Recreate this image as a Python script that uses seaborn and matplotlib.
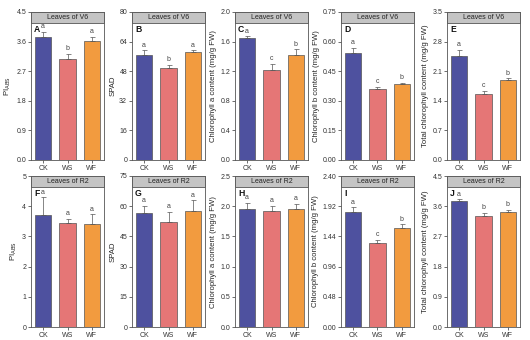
import matplotlib
matplotlib.use("Agg")
import matplotlib.pyplot as plt
import seaborn as sns
import pandas as pd
from matplotlib.patches import Rectangle

sns.set_theme(style="white")
plt.rcParams['font.family'] = ['Liberation Sans', 'DejaVu Sans']

treatments = ["CK", "WS", "WF"]
colors = ["#4e519f", "#e57676", "#f29b3f"]

# Row 1: Leaves of V6
pi_v6 = [3.73, 3.07, 3.61]
pi_v6_err = [0.16, 0.15, 0.13]
spad_v6 = [57.0, 49.5, 58.3]
spad_v6_err = [2.2, 1.8, 0.9]
chla_v6 = [1.65, 1.21, 1.425]
chla_v6_err = [0.02, 0.09, 0.07]
chlb_v6 = [0.54, 0.361, 0.384]
chlb_v6_err = [0.03, 0.01, 0.007]
tot_v6 = [2.47, 1.57, 1.89]
tot_v6_err = [0.14, 0.06, 0.04]

# Row 2: Leaves of R2
pi_r2 = [3.71, 3.45, 3.40]
pi_r2_err = [0.58, 0.12, 0.33]
spad_r2 = [56.5, 52.4, 57.8]
spad_r2_err = [3.5, 4.6, 5.1]
chla_r2 = [1.95, 1.92, 1.95]
chla_r2_err = [0.10, 0.08, 0.09]
chlb_r2 = [1.83, 1.34, 1.57]
chlb_r2_err = [0.07, 0.04, 0.06]
tot_r2 = [3.76, 3.31, 3.42]
tot_r2_err = [0.04, 0.08, 0.07]

panels = [
    ("A", "Leaves of V6", "PI$_{\\mathrm{ABS}}$", pi_v6, pi_v6_err, ["a", "b", "a"], [0, 0.9, 1.8, 2.7, 3.6, 4.5], ["0.0", "0.9", "1.8", "2.7", "3.6", "4.5"]),
    ("B", "Leaves of V6", "SPAD", spad_v6, spad_v6_err, ["a", "b", "a"], [0, 16, 32, 48, 64, 80], ["0", "16", "32", "48", "64", "80"]),
    ("C", "Leaves of V6", "Chlorophyll a content (mg/g FW)", chla_v6, chla_v6_err, ["a", "c", "b"], [0, 0.4, 0.8, 1.2, 1.6, 2.0], ["0.0", "0.4", "0.8", "1.2", "1.6", "2.0"]),
    ("D", "Leaves of V6", "Chlorophyll b content (mg/g FW)", chlb_v6, chlb_v6_err, ["a", "c", "b"], [0, 0.15, 0.30, 0.45, 0.60, 0.75], ["0.00", "0.15", "0.30", "0.45", "0.60", "0.75"]),
    ("E", "Leaves of V6", "Total chlorophyll content (mg/g FW)", tot_v6, tot_v6_err, ["a", "c", "b"], [0, 0.7, 1.4, 2.1, 2.8, 3.5], ["0.0", "0.7", "1.4", "2.1", "2.8", "3.5"]),
    ("F", "Leaves of R2", "PI$_{\\mathrm{ABS}}$", pi_r2, pi_r2_err, ["a", "a", "a"], [0, 1, 2, 3, 4, 5], ["0", "1", "2", "3", "4", "5"]),
    ("G", "Leaves of R2", "SPAD", spad_r2, spad_r2_err, ["a", "a", "a"], [0, 15, 30, 45, 60, 75], ["0", "15", "30", "45", "60", "75"]),
    ("H", "Leaves of R2", "Chlorophyll a content (mg/g FW)", chla_r2, chla_r2_err, ["a", "a", "a"], [0, 0.5, 1.0, 1.5, 2.0, 2.5], ["0.0", "0.5", "1.0", "1.5", "2.0", "2.5"]),
    ("I", "Leaves of R2", "Chlorophyll b content (mg/g FW)", chlb_r2, chlb_r2_err, ["a", "c", "b"], [0, 0.48, 0.96, 1.44, 1.92, 2.40], ["0.00", "0.48", "0.96", "1.44", "1.92", "2.40"]),
    ("J", "Leaves of R2", "Total chlorophyll content (mg/g FW)", tot_r2, tot_r2_err, ["a", "b", "b"], [0, 0.9, 1.8, 2.7, 3.6, 4.5], ["0.0", "0.9", "1.8", "2.7", "3.6", "4.5"]),
]

W, H = 530, 340
fig = plt.figure(figsize=(5.3, 3.4), dpi=100)
fig.patch.set_facecolor("white")

lefts = [31, 132, 235, 341, 447]
width = 73
rows = [(12, 160), (176, 327)]

fs = 5.0
for i, (letter, header, ylabel, vals, errs, sig, ticks, ticklabels) in enumerate(panels):
    r, c = divmod(i, 5)
    top, bot = rows[r]
    ax = fig.add_axes([lefts[c] / W, (H - bot) / H, width / W, (bot - top) / H])
    df = pd.DataFrame({"Treatment": treatments, "Value": vals})
    sns.barplot(data=df, x="Treatment", y="Value", hue="Treatment", palette=colors,
                order=treatments, hue_order=treatments, legend=False, errorbar=None,
                saturation=1, width=0.67, edgecolor="#555555", linewidth=0.5, ax=ax, zorder=2)
    ax.errorbar(range(3), vals, yerr=[[0, 0, 0], errs], fmt="none", ecolor="#555555",
                elinewidth=0.5, capsize=1.8, capthick=0.5, zorder=3)
    ax.set_xlim(-0.5, 2.5)
    ax.set_ylim(ticks[0], ticks[-1])
    ax.set_yticks(ticks)
    ax.set_yticklabels(ticklabels)
    ax.set_xlabel("")
    ax.set_ylabel(ylabel, fontsize=5.6, labelpad=2)
    ax.tick_params(axis="both", labelsize=fs, length=2, width=0.5, pad=1.5, direction="out",
                   colors="#333333")
    ax.tick_params(axis="both", which="both", bottom=True, left=True)
    for s in ax.spines.values():
        s.set_linewidth(0.6)
        s.set_color("#555555")
    span = ticks[-1] - ticks[0]
    for j in range(3):
        ax.text(j, vals[j] + errs[j] + span * 0.012, sig[j], ha="center", va="bottom",
                fontsize=fs, color="#444444")
    hh = 11 / (bot - top)
    ax.add_patch(Rectangle((0, 1 - hh), 1, hh, transform=ax.transAxes, facecolor="#c4c4c4",
                           edgecolor="#555555", linewidth=0.6, zorder=5, clip_on=False))
    ax.text(0.5, 1 - hh / 2, header, transform=ax.transAxes, ha="center", va="center",
            fontsize=fs, color="#222222", zorder=6)
    ax.text(0.04, 1 - hh - 0.015, letter, transform=ax.transAxes, ha="left", va="top",
            fontsize=6.2, fontweight="bold", color="#111111", zorder=6)

fig.savefig("out.png", dpi=100, facecolor="white")
